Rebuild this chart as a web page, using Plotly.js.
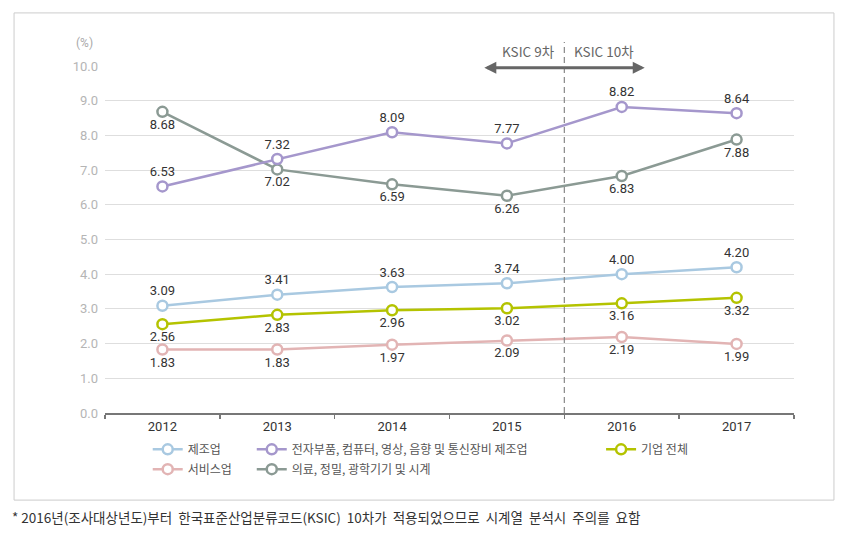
<!DOCTYPE html>
<html>
<head>
<meta charset="utf-8">
<script src="https://cdn.plot.ly/plotly-3.0.1.min.js"></script>
<style>html,body{margin:0;padding:0;background:#fff;}#chart{width:853px;height:551px;}</style>
</head>
<body>
<div id="chart"></div>
<script>
const years = ['2012','2013','2014','2015','2016','2017'];
const manufacturing = [3.09, 3.41, 3.63, 3.74, 4.00, 4.20];
const electronics = [6.53, 7.32, 8.09, 7.77, 8.82, 8.64];
const allFirms = [2.56, 2.83, 2.96, 3.02, 3.16, 3.32];
const services = [1.83, 1.83, 1.97, 2.09, 2.19, 1.99];
const medical = [8.68, 7.02, 6.59, 6.26, 6.83, 7.88];

const names = {
  manufacturing: '제조업',
  electronics: '전자부품, 컴퓨터, 영상, 음향 및 통신장비 제조업',
  allFirms: '기업 전체',
  services: '서비스업',
  medical: '의료, 정밀, 광학기기 및 시계'
};
const footnote = '* 2016년(조사대상년도)부터\u00a0 한국표준산업분류코드(KSIC)\u00a0 10차가\u00a0 적용되었으므로\u00a0 시계열\u00a0 분석시\u00a0 주의를\u00a0 요함';

const numFont = 'Roboto, "DejaVu Sans", sans-serif';
const krFont = '"Noto Sans CJK KR", "Noto Sans", sans-serif';

function mk(name, vals, color, pos, legend) {
  return {
    x: years, y: vals, name: name, type: 'scatter', mode: 'lines+markers+text',
    text: vals.map(v => v.toFixed(2)), textposition: pos,
    textfont: {family: numFont, size: 13, color: '#333'},
    line: {color: color, width: 2.5},
    marker: {symbol: 'circle', size: 10, color: '#fff', line: {color: color, width: 2.5}},
    legend: legend, cliponaxis: false, hoverinfo: 'skip'
  };
}

const traces = [
  mk(names.services, services, '#e2b4b4', 'bottom center', 'legend4'),
  mk(names.manufacturing, manufacturing, '#a9c9e1', 'top center', 'legend'),
  mk(names.allFirms, allFirms, '#b4c300', 'bottom center', 'legend3'),
  mk(names.medical, medical, '#8b9a94', 'bottom center', 'legend5'),
  mk(names.electronics, electronics, '#a597cc', 'top center', 'legend2')
];

const row1 = -0.063, row2 = -0.12;
function lg(x, y) {
  return {
    orientation: 'v', yanchor: 'top', xanchor: 'left', x: x, y: y,
    bgcolor: 'rgba(0,0,0,0)', itemwidth: 30,
    font: {family: krFont, size: 12, color: '#555'}
  };
}

const layout = {
  width: 853, height: 551,
  margin: {l: 105, r: 59, t: 66, b: 138},
  paper_bgcolor: '#fff', plot_bgcolor: '#fff',
  showlegend: true,
  legend: lg(0.062, row1),
  legend2: lg(0.213, row1),
  legend3: lg(0.72, row1),
  legend4: lg(0.062, row2),
  legend5: lg(0.213, row2),
  xaxis: {
    type: 'category', range: [-0.5, 5.5], tickson: 'boundaries',
    ticks: 'outside', ticklen: 4, tickcolor: '#777', tickwidth: 1.5,
    showline: true, linecolor: '#777', linewidth: 2, showgrid: false,
    tickfont: {family: numFont, size: 13, color: '#333'}, fixedrange: true
  },
  yaxis: {
    range: [0, 10], dtick: 1, tickformat: '.1f',
    showgrid: true, gridcolor: '#dedede', gridwidth: 1, zeroline: false,
    showline: false, ticks: '', ticklabelstandoff: 6,
    tickfont: {family: numFont, size: 13, color: '#b5b5b5'}, fixedrange: true
  },
  shapes: [
    {type: 'rect', xref: 'paper', yref: 'paper', x0: -0.132, x1: 1.058, y0: -0.251, y1: 1.153,
     line: {color: '#cccccc', width: 1}, fillcolor: 'rgba(0,0,0,0)', layer: 'below'},
    {type: 'line', xref: 'x', yref: 'paper', x0: 3.5, x1: 3.5, y0: 0, y1: 1.069,
     line: {color: '#888', width: 1.2, dash: '6px,4px'}}
  ],
  annotations: [
    {xref: 'paper', yref: 'paper', x: -0.015, y: 1.065, xanchor: 'right', yanchor: 'middle',
     text: '(%)', showarrow: false, font: {family: numFont, size: 12, color: '#aaa'}},
    {xref: 'x', yref: 'paper', x: 3.44, y: 1.043, xanchor: 'right', yanchor: 'middle',
     text: 'KSIC 9차', showarrow: false, font: {family: krFont, size: 13.5, color: '#666'}},
    {xref: 'x', yref: 'paper', x: 3.57, y: 1.043, xanchor: 'left', yanchor: 'middle',
     text: 'KSIC 10차', showarrow: false, font: {family: krFont, size: 13.5, color: '#666'}},
    {xref: 'x', yref: 'y', axref: 'x', ayref: 'y', x: 4.2, y: 9.95, ax: 2.79, ay: 9.95,
     text: '', showarrow: true, arrowhead: 2, arrowside: 'end+start', arrowsize: 0.8,
     arrowwidth: 3, arrowcolor: '#666'},
    {xref: 'paper', yref: 'paper', x: -0.138, y: -0.30, xanchor: 'left', yanchor: 'middle',
     text: footnote, showarrow: false, font: {family: krFont, size: 13.5, color: '#333'}}
  ]
};

Plotly.newPlot('chart', traces, layout, {displayModeBar: false, staticPlot: true});
</script>
</body>
</html>
